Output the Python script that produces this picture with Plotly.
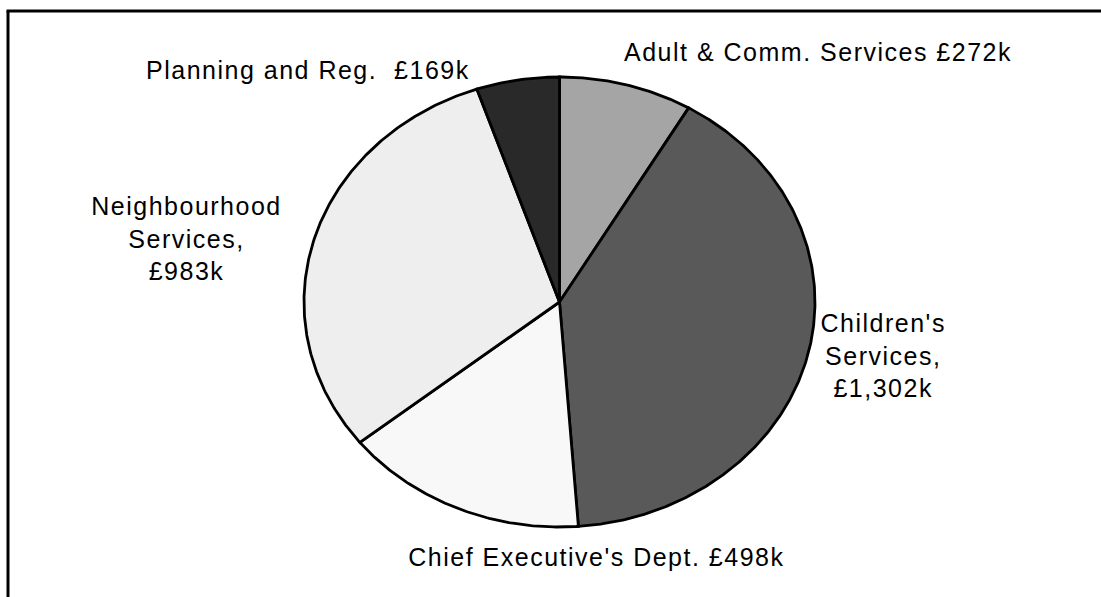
import numpy as np
import plotly.graph_objects as go

# Budget by directorate (£k), in clockwise order from 12 o'clock
departments = [
    "Adult & Comm. Services",
    "Children's Services",
    "Chief Executive's Dept.",
    "Neighbourhood Services",
    "Planning and Reg.",
]
amounts = [272, 1302, 498, 983, 169]
slice_colors = ["#a5a5a5", "#595959", "#f8f8f8", "#eeeeee", "#292929"]

# Label texts for each slice
label_texts = [
    f"Adult & Comm. Services £{amounts[0]:,}k",
    f"Children's<br>Services,<br>£{amounts[1]:,}k",
    f"Chief Executive's Dept. £{amounts[2]:,}k",
    f"Neighbourhood<br>Services,<br>£{amounts[3]:,}k",
    f"Planning and Reg.  £{amounts[4]:,}k",
]
# label anchor points in paper coordinates
label_pos = [
    (0.7430, 0.9129),
    (0.8020, 0.4037),
    (0.5420, 0.0670),
    (0.1690, 0.6013),
    (0.2800, 0.8827),
]

fig = go.Figure()

# Pie wedges drawn on a unit circle; axis ranges stretch it into the ellipse
total = float(sum(amounts))
cum = np.concatenate([[0.0], np.cumsum(amounts)]) / total * 2 * np.pi
for name, a0, a1, col in zip(departments, cum[:-1], cum[1:], slice_colors):
    n = max(int(np.degrees(a1 - a0) * 2), 4)
    t = np.linspace(a0, a1, n)
    xs = np.concatenate([[0.0], np.sin(t), [0.0]])
    ys = np.concatenate([[0.0], np.cos(t), [0.0]])
    fig.add_trace(go.Scatter(
        x=xs, y=ys, mode="lines", fill="toself", fillcolor=col,
        line=dict(color="black", width=2.8), name=name,
        hoverinfo="name", showlegend=False,
    ))

for txt, (px, py) in zip(label_texts, label_pos):
    fig.add_annotation(
        text=txt, x=px, y=py, xref="paper", yref="paper",
        xanchor="center", yanchor="middle", showarrow=False, align="center",
        font=dict(family="Liberation Sans, Arial, sans-serif", size=25, color="black"),
    )

# chart-area frame: only the left and top edges fall inside the page
frame = dict(color="black", width=3)
fig.add_shape(type="line", xref="paper", yref="paper",
              x0=0.00727, x1=0.00727, y0=-0.1, y1=0.9816, line=frame)
fig.add_shape(type="line", xref="paper", yref="paper",
              x0=0.0059, x1=1.1, y0=0.9816, y1=0.9816, line=frame)

fig.update_layout(
    width=1101, height=597,
    margin=dict(l=0, r=0, t=0, b=0),
    paper_bgcolor="white", plot_bgcolor="white",
    xaxis=dict(range=[-2.1898, 2.1194], visible=False, fixedrange=True),
    yaxis=dict(range=[-1.3111, 1.3422], visible=False, fixedrange=True),
    showlegend=False,
)

css = ("var s=document.createElement('style');"
       "s.textContent='.annotation-text{letter-spacing:1.5px;}';"
       "document.head.appendChild(s);")
fig.write_html("out.html", post_script=css, config={"displayModeBar": False})
